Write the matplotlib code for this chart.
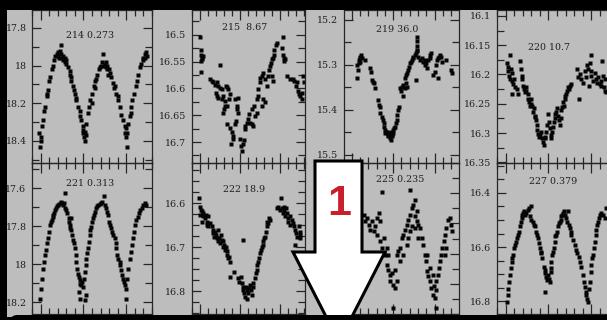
import matplotlib
matplotlib.use('Agg')
import matplotlib.pyplot as plt
from matplotlib.patches import Polygon, Rectangle, FancyBboxPatch
from matplotlib.ticker import MultipleLocator, FuncFormatter

# ---------------- data (phase, magnitude) ----------------
lc214 = [(-0.508,18.43),(-0.515,18.36),(-0.488,18.32),(-0.477,18.29),(-0.457,18.24),(-0.45,18.22),
 (-0.43,18.16),(-0.419,18.13),(-0.40,18.08),(-0.391,18.06),(-0.372,18.02),(-0.36,18.00),(-0.345,17.97),
 (-0.333,17.95),(-0.314,17.94),(-0.295,17.93),(-0.275,17.92),(-0.256,17.89),(-0.267,17.96),(-0.236,17.97),
 (-0.217,17.98),(-0.198,17.99),(-0.178,18.01),(-0.159,18.03),(-0.147,18.06),(-0.14,18.08),(-0.12,18.11),
 (-0.112,18.13),(-0.089,18.17),(-0.081,18.18),(-0.062,18.22),(-0.043,18.24),(-0.035,18.27),(-0.023,18.29),
 (-0.004,18.32),(0.016,18.35),(0.027,18.37),(0.035,18.31),(0.054,18.25),(0.066,18.22),(0.081,18.18),
 (0.105,18.15),(0.12,18.11),(0.132,18.08),(0.151,18.07),(0.163,18.05),(0.182,18.02),(0.198,18.01),
 (0.209,18.00),(0.229,17.94),(0.248,17.99),(0.26,18.01),(0.275,18.02),(0.287,18.05),(0.306,18.04),
 (0.326,18.06),(0.345,18.09),(0.364,18.11),(0.384,18.15),(0.403,18.18),(0.422,18.22),(0.442,18.26),
 (0.461,18.29),(0.481,18.32),(0.50,18.33),(0.512,18.43),(0.519,18.31),(0.539,18.27),(0.558,18.22),
 (0.57,18.18),(0.589,18.15),(0.609,18.11),(0.624,18.08),(0.636,18.05),(0.655,18.01),(0.674,17.99),
 (0.694,17.96),(0.713,17.94),(0.733,17.93),(0.744,17.95),(-0.3,17.95),(-0.28,17.96),(-0.26,17.94),
 (-0.24,17.95),(-0.22,17.96),(-0.2,17.97),(0.22,17.98),(0.24,18.0),(0.26,17.98),(0.28,18.0),(0.3,18.02),
 (0.0,18.36),(0.01,18.38),(0.02,18.40),(-0.01,18.34),(0.49,18.36),(0.5,18.38),(0.51,18.36),(-0.5,18.38),
 (-0.49,18.40),(0.7,17.97),(0.72,17.96),(-0.1,18.15),(0.1,18.2),(0.4,18.16),(0.55,18.25),(-0.42,18.15),
 (-0.16,18.05),(0.14,18.12),(0.36,18.12)]

lc215 = [(-0.5,16.505),(-0.49,16.528),(-0.49,16.537),(-0.48,16.543),(-0.49,16.549),(-0.47,16.546),
 (-0.46,16.54),(-0.49,16.57),(-0.375,16.583),(-0.354,16.586),(-0.333,16.589),(-0.313,16.593),(-0.292,16.588),
 (-0.271,16.596),(-0.25,16.556),(-0.25,16.599),(-0.229,16.602),(-0.30,16.608),(-0.292,16.614),(-0.271,16.617),
 (-0.229,16.62),(-0.208,16.614),(-0.188,16.623),(-0.175,16.596),(-0.158,16.597),(-0.146,16.602),(-0.125,16.611),
 (-0.133,16.62),(-0.167,16.633),(-0.20,16.639),(-0.217,16.645),(-0.188,16.633),(-0.167,16.667),(-0.125,16.673),
 (-0.104,16.682),(-0.092,16.694),(-0.117,16.704),(-0.083,16.688),(-0.063,16.667),(-0.05,16.66),(-0.042,16.639),
 (-0.033,16.633),(-0.021,16.617),(-0.063,16.62),(-0.021,16.645),(0.0,16.694),(0.008,16.707),(0.021,16.716),
 (0.033,16.704),(0.05,16.697),(0.063,16.676),(0.063,16.67),(0.083,16.664),(0.104,16.657),(0.125,16.664),
 (0.146,16.667),(0.167,16.67),(0.117,16.648),(0.146,16.639),(0.175,16.633),(0.208,16.62),(0.229,16.614),
 (0.229,16.602),(0.25,16.589),(0.25,16.58),(0.271,16.577),(0.292,16.571),(0.313,16.583),(0.333,16.596),
 (0.354,16.577),(0.367,16.565),(0.375,16.559),(0.383,16.552),(0.396,16.546),(0.408,16.543),(0.417,16.537),
 (0.425,16.528),(0.442,16.519),(0.458,16.515),(0.521,16.525),(0.533,16.537),(0.542,16.543),(0.55,16.549),
 (0.563,16.546),(0.533,16.505),(0.583,16.577),(0.625,16.583),(0.658,16.583),(0.675,16.586),(0.708,16.589),
 (0.70,16.596),(0.717,16.605),(0.729,16.611),(0.75,16.614),(0.771,16.608),(0.771,16.62),(0.792,16.589),
 (0.783,16.577),(0.292,16.62),(0.313,16.626),(0.271,16.633),(0.208,16.645),(0.188,16.651),(0.396,16.577),
 (0.408,16.586)]

lc219 = [(-0.433,15.300),(-0.425,15.311),(-0.433,15.330),(-0.413,15.289),(-0.401,15.285),(-0.393,15.282),
 (-0.385,15.278),(-0.373,15.285),(-0.413,15.296),(-0.393,15.293),(-0.333,15.289),(-0.274,15.307),(-0.266,15.315),
 (-0.254,15.333),(-0.242,15.337),(-0.234,15.341),(-0.214,15.352),(-0.187,15.378),(-0.175,15.389),(-0.163,15.393),
 (-0.155,15.407),(-0.135,15.415),(-0.123,15.422),(-0.115,15.43),(-0.107,15.437),(-0.095,15.445),(-0.083,15.448),
 (-0.075,15.452),(-0.067,15.456),(-0.056,15.459),(-0.044,15.456),(-0.036,15.463),(-0.028,15.467),(-0.016,15.459),
 (-0.004,15.452),(0.004,15.445),(0.012,15.441),(0.024,15.437),(0.036,15.43),(0.044,15.422),(0.052,15.411),
 (0.06,15.40),(0.067,15.393),(-0.095,15.452),(-0.075,15.448),(-0.056,15.452),(-0.036,15.452),(-0.016,15.456),
 (-0.028,15.448),(0.083,15.352),(0.091,15.359),(0.103,15.348),(0.115,15.37),(0.123,15.344),(0.143,15.352),
 (0.155,15.341),(0.163,15.348),(0.143,15.33),(0.155,15.322),(0.171,15.319),(0.183,15.311),(0.194,15.304),
 (0.202,15.296),(0.21,15.293),(0.222,15.289),(0.234,15.285),(0.242,15.282),(0.262,15.278),(0.274,15.274),
 (0.282,15.27),(0.29,15.267),(0.29,15.259),(0.29,15.237),(0.29,15.248),(0.274,15.333),(0.302,15.282),
 (0.321,15.289),(0.341,15.285),(0.361,15.293),(0.381,15.289),(0.393,15.296),(0.401,15.307),(0.421,15.289),
 (0.44,15.285),(0.448,15.278),(0.46,15.274),(0.381,15.30),(0.48,15.322),(0.50,15.315),(0.52,15.30),
 (0.528,15.289),(0.54,15.285),(0.552,15.282),(0.56,15.278),(0.579,15.282),(0.591,15.293),(0.54,15.33),
 (0.639,15.289),(0.698,15.311),(0.706,15.319)]

lc220 = [(-0.488,16.180),(-0.477,16.194),(-0.469,16.188),(-0.461,16.202),(-0.45,16.208),(-0.438,16.191),
 (-0.43,16.197),(-0.422,16.211),(-0.411,16.216),(-0.399,16.208),(-0.391,16.222),(-0.45,16.166),(-0.43,16.233),
 (-0.372,16.225),(-0.353,16.233),(-0.333,16.177),(-0.322,16.191),(-0.314,16.202),(-0.306,16.208),(-0.295,16.219),
 (-0.283,16.225),(-0.275,16.23),(-0.267,16.222),(-0.256,16.228),(-0.244,16.233),(-0.236,16.242),(-0.229,16.247),
 (-0.217,16.253),(-0.205,16.25),(-0.198,16.242),(-0.19,16.253),(-0.178,16.264),(-0.167,16.258),(-0.159,16.27),
 (-0.151,16.273),(-0.143,16.278),(-0.136,16.287),(-0.128,16.295),(-0.12,16.301),(-0.112,16.306),(-0.101,16.303),
 (-0.089,16.298),(-0.074,16.309),(-0.062,16.315),(-0.05,16.32),(-0.043,16.309),(-0.035,16.306),(-0.023,16.298),
 (-0.012,16.287),(-0.004,16.267),(0.004,16.281),(0.016,16.292),(0.027,16.303),(0.035,16.309),(0.043,16.298),
 (0.054,16.289),(0.066,16.281),(0.074,16.267),(0.081,16.275),(0.093,16.264),(0.105,16.258),(0.112,16.27),
 (0.12,16.278),(0.132,16.287),(0.143,16.275),(0.151,16.261),(0.159,16.256),(0.171,16.247),(0.182,16.253),
 (0.19,16.242),(0.198,16.236),(0.209,16.233),(0.221,16.228),(0.229,16.222),(0.236,16.225),(0.248,16.219),
 (0.26,16.216),(0.345,16.205),(0.353,16.242),(0.364,16.199),(0.384,16.208),(0.403,16.214),(0.422,16.194),
 (0.442,16.205),(0.453,16.183),(0.461,16.191),(0.469,16.219),(0.481,16.18),(0.492,16.194),(0.50,16.202),
 (0.519,16.211),(0.539,16.197),(0.558,16.208),(0.57,16.214),(0.578,16.205),(0.597,16.216),(0.609,16.219),
 (0.616,16.211),(0.624,16.177),(0.636,16.202),(0.647,16.222),(0.655,16.228),(0.663,16.208),(0.674,16.23),
 (0.50,16.166),(0.337,16.191)]

lc221 = [(-0.508,18.182),(-0.5,18.13),(-0.488,18.077),(-0.477,18.024),(-0.461,17.988),(-0.45,17.953),
 (-0.438,17.927),(-0.422,17.891),(-0.411,17.865),(-0.399,17.829),(-0.391,17.794),(-0.384,17.777),(-0.372,17.768),
 (-0.36,17.75),(-0.353,17.741),(-0.341,17.732),(-0.333,17.715),(-0.322,17.706),(-0.306,17.697),(-0.295,17.688),
 (-0.283,17.685),(-0.267,17.679),(-0.256,17.671),(-0.244,17.688),(-0.229,17.679),(-0.213,17.626),(-0.217,17.706),
 (-0.198,17.715),(-0.186,17.732),(-0.174,17.759),(-0.167,17.777),(-0.159,17.794),(-0.151,17.812),(-0.14,17.821),
 (-0.128,17.847),(-0.12,17.874),(-0.112,17.891),(-0.101,17.918),(-0.089,17.953),(-0.081,17.988),(-0.07,18.024),
 (-0.058,18.05),(-0.05,18.068),(-0.043,18.085),(-0.035,18.103),(-0.023,18.112),(-0.012,18.094),(-0.004,18.121),
 (0.004,18.077),(0.016,18.041),(0.027,18.006),(0.035,17.971),(0.043,17.944),(0.054,17.918),(0.066,17.882),
 (0.074,17.847),(0.081,17.821),(0.093,17.803),(0.105,17.777),(0.112,17.759),(0.124,17.741),(0.132,17.724),
 (0.143,17.706),(0.159,17.697),(0.174,17.688),(0.19,17.685),(0.205,17.679),(0.221,17.671),(0.236,17.644),
 (0.248,17.688),(0.26,17.706),(0.275,17.724),(0.287,17.741),(0.298,17.777),(0.314,17.794),(0.326,17.812),
 (0.337,17.829),(0.345,17.847),(0.364,17.865),(0.376,17.891),(0.384,17.918),(0.395,17.953),(0.407,17.971),
 (0.422,17.988),(0.43,18.006),(0.442,18.032),(0.453,18.059),(0.461,18.077),(0.469,18.094),(0.481,18.112),
 (0.492,18.13),(0.50,18.182),(0.512,18.077),(0.523,18.024),(0.539,17.971),(0.55,17.935),(0.562,17.9),
 (0.578,17.865),(0.589,17.829),(0.597,17.794),(0.616,17.768),(0.632,17.75),(0.647,17.732),(0.663,17.715),
 (0.678,17.706),(0.694,17.688),(0.713,17.679),(0.733,17.688),(-0.035,18.182),(0.016,18.191),(-0.05,18.147),
 (0.035,18.165),(-0.14,17.759)]

lc222 = [(-0.508,16.589),(-0.5,16.608),(-0.492,16.615),(-0.5,16.627),(-0.479,16.619),(-0.467,16.623),
 (-0.458,16.63),(-0.479,16.642),(-0.438,16.634),(-0.425,16.627),(-0.417,16.642),(-0.408,16.649),(-0.396,16.63),
 (-0.396,16.653),(-0.375,16.646),(-0.354,16.653),(-0.342,16.661),(-0.333,16.668),(-0.325,16.676),(-0.313,16.665),
 (-0.30,16.672),(-0.292,16.68),(-0.279,16.687),(-0.271,16.661),(-0.258,16.68),(-0.25,16.691),(-0.242,16.672),
 (-0.229,16.684),(-0.217,16.699),(-0.208,16.687),(-0.20,16.695),(-0.188,16.706),(-0.175,16.699),(-0.167,16.71),
 (-0.158,16.718),(-0.146,16.725),(-0.133,16.722),(-0.125,16.733),(-0.125,16.767),(-0.075,16.756),(-0.021,16.771),
 (-0.008,16.779),(0.008,16.767),(0.021,16.782),(0.033,16.79),(0.042,16.798),(0.05,16.805),(0.063,16.813),
 (0.075,16.79),(0.083,16.798),(0.092,16.817),(0.104,16.805),(0.117,16.794),(0.125,16.786),(0.133,16.798),
 (0.146,16.809),(0.158,16.79),(0.167,16.782),(0.188,16.771),(0.20,16.76),(0.208,16.752),(0.217,16.741),
 (0.229,16.733),(0.242,16.725),(0.25,16.714),(0.258,16.706),(0.271,16.699),(0.283,16.695),(0.292,16.687),
 (0.30,16.68),(0.313,16.676),(0.325,16.665),(0.333,16.653),(0.342,16.642),(0.354,16.646),(0.367,16.634),
 (0.375,16.638),(0.042,16.684),(0.458,16.611),(0.479,16.608),(0.50,16.615),(0.513,16.589),(0.521,16.611),
 (0.533,16.623),(0.542,16.608),(0.55,16.619),(0.563,16.63),(0.575,16.611),(0.583,16.623),(0.592,16.634),
 (0.604,16.642),(0.617,16.63),(0.625,16.649),(0.646,16.638),(0.658,16.646),(0.675,16.653),(0.688,16.661),
 (0.70,16.668),(0.708,16.676),(0.729,16.653),(0.742,16.665),(0.75,16.672),(0.688,16.695),(0.742,16.68)]

lc225 = [(-0.5,18.25),(-0.45,18.05),(-0.4,17.85),(-0.353,17.743),(-0.333,17.787),(-0.313,17.765),
 (-0.294,17.809),(-0.274,17.842),(-0.254,17.787),(-0.234,17.853),(-0.214,17.82),(-0.194,17.875),(-0.175,17.732),
 (-0.194,17.765),(-0.155,17.919),(-0.135,17.963),(-0.115,17.996),(-0.095,18.007),(-0.075,18.073),(-0.056,18.106),
 (-0.036,18.139),(-0.016,18.128),(-0.036,18.183),(0.004,18.205),(0.024,18.227),(0.044,18.183),(0.024,18.106),
 (0.044,18.007),(0.063,17.985),(0.083,17.963),(0.103,17.897),(0.123,17.875),(0.143,17.842),(0.163,17.809),
 (0.183,17.776),(0.202,17.743),(0.222,17.699),(0.242,17.677),(0.262,17.754),(0.282,17.787),(0.302,17.809),
 (0.262,17.831),(0.321,17.831),(0.341,17.897),(0.361,17.941),(0.381,18.007),(0.393,18.051),(0.401,18.117),
 (0.421,18.15),(0.44,18.183),(0.46,18.227),(0.48,18.271),(0.488,18.216),(0.50,18.293),(0.52,18.238),
 (0.512,18.359),(0.54,18.139),(0.552,18.095),(0.56,18.051),(0.579,18.007),(0.591,17.963),(0.607,17.919),
 (0.619,17.875),(0.639,17.831),(0.659,17.776),(0.679,17.765),(0.698,17.809),(0.71,17.853),(0.202,17.578),
 (-0.135,17.589),(0.262,17.644),(0.004,18.359),(0.083,18.051),(0.123,18.007),(0.163,17.941),(-0.155,17.787),
 (-0.115,17.897),(-0.075,17.963),(-0.056,18.007),(0.202,17.853),(0.183,17.897),(0.302,17.897),(0.401,18.007),
 (0.44,18.095),(0.48,18.139),(0.52,18.183),(0.619,18.007),(0.639,17.963),(0.282,17.721),(0.222,17.82)]

lc227 = [(-0.488,16.804),(-0.477,16.779),(-0.469,16.754),(-0.461,16.729),(-0.45,16.704),(-0.438,16.679),
 (-0.43,16.655),(-0.422,16.642),(-0.411,16.63),(-0.399,16.605),(-0.391,16.593),(-0.38,16.58),(-0.368,16.568),
 (-0.353,16.555),(-0.345,16.543),(-0.333,16.524),(-0.322,16.506),(-0.314,16.493),(-0.306,16.481),(-0.295,16.475),
 (-0.283,16.468),(-0.275,16.481),(-0.256,16.475),(-0.244,16.462),(-0.229,16.456),(-0.205,16.45),(-0.217,16.487),
 (-0.198,16.499),(-0.178,16.506),(-0.167,16.518),(-0.151,16.524),(-0.14,16.543),(-0.128,16.555),(-0.12,16.568),
 (-0.109,16.586),(-0.101,16.605),(-0.089,16.617),(-0.081,16.624),(-0.074,16.642),(-0.05,16.673),(-0.043,16.686),
 (-0.035,16.698),(-0.023,16.711),(-0.012,16.723),(-0.004,16.704),(0.004,16.717),(0.016,16.729),(0.027,16.692),
 (0.035,16.655),(0.043,16.63),(0.054,16.617),(0.066,16.605),(0.074,16.58),(0.081,16.561),(0.093,16.555),
 (0.105,16.543),(0.112,16.524),(0.12,16.512),(0.132,16.506),(0.143,16.499),(0.151,16.487),(0.159,16.481),
 (0.171,16.475),(0.182,16.468),(0.19,16.481),(0.209,16.493),(0.229,16.468),(0.221,16.506),(0.236,16.518),
 (0.248,16.53),(0.26,16.543),(0.267,16.555),(0.287,16.574),(0.306,16.593),(0.326,16.611),(0.337,16.624),
 (0.353,16.636),(0.364,16.655),(0.384,16.673),(0.403,16.704),(0.415,16.729),(0.422,16.748),(0.434,16.766),
 (0.442,16.779),(0.453,16.791),(0.461,16.804),(0.469,16.754),(0.481,16.729),(0.492,16.692),(0.50,16.667),
 (0.508,16.642),(0.519,16.63),(0.531,16.605),(0.539,16.58),(0.55,16.555),(0.558,16.537),(0.57,16.518),
 (0.578,16.506),(0.585,16.493),(0.597,16.481),(0.609,16.475),(0.636,16.481),(0.655,16.493),(0.674,16.456),
 (-0.043,16.766),(0.035,16.679)]

titles = ["214 0.273", "215  8.67", "219 36.0", "220 10.7",
          "221 0.313", "222 18.9", "225 0.235", "227 0.379"]
curves = [lc214, lc215, lc219, lc220, lc221, lc222, lc225, lc227]
ylims = [(18.517, 17.705), (16.739, 16.454), (15.518, 15.178), (16.351, 16.09),
         (18.263, 17.468), (16.852, 16.509), (18.4, 17.4), (16.848, 16.289)]
ymajor = [0.2, 0.05, 0.1, 0.05, 0.2, 0.1, 0.2, 0.2]
yminor = [0.1, 0.025, 0.05, 0.025, 0.1, 0.025, 0.1, 0.05]
show_ylabels = [True, True, True, True, True, True, False, True]  # panel 225 labels lie under the arrow

# ---------------- layout (pixels of the 607x320 picture) ----------------
W, H = 607, 320
fig = plt.figure(figsize=(W / 100, H / 100), dpi=100)
BG = '#bdbdbd'
fig.patch.set_facecolor(BG)

cols = [(32, 152, (-0.6, 0.8)), (192, 305, (-0.6, 0.81)),
        (344, 459, (-0.59, 0.79)), (497, 617, (-0.6, 0.8))]
rows = [(10, 163), (163, 314)]
title_pos = [(90, 35), (245, 27), (397, 29), (549, 47),
             (90, 184), (244, 190), (400, 180), (553, 182)]

SERIF = ['DejaVu Serif']
TC = '#262626'
for i in range(8):
    r, c = divmod(i, 4)
    x0, x1, xl = cols[c]
    y0, y1 = rows[r]
    ax = fig.add_axes([x0 / W, 1 - y1 / H, (x1 - x0) / W, (y1 - y0) / H])
    ax.set_facecolor('none')
    ph = [p for p, m in curves[i]]
    mg = [m for p, m in curves[i]]
    ax.plot(ph, mg, 's', ms=2.2, color='#050505', mec='none', clip_on=True)
    ax.set_xlim(*xl)
    ax.set_ylim(*ylims[i])
    ax.xaxis.set_major_locator(MultipleLocator(0.5))
    ax.xaxis.set_minor_locator(MultipleLocator(0.1))
    ax.yaxis.set_major_locator(MultipleLocator(ymajor[i]))
    ax.yaxis.set_minor_locator(MultipleLocator(yminor[i]))
    ax.yaxis.set_major_formatter(FuncFormatter(lambda v, pos: f"{v:g}"))
    ax.tick_params(which='both', direction='in', top=True, right=True,
                   labelbottom=False, labelleft=show_ylabels[i], color=TC, width=0.9)
    ax.tick_params(axis='x', which='major', length=7)
    ax.tick_params(axis='x', which='minor', length=4.5)
    ax.tick_params(axis='y', which='major', length=6.5, pad=4,
                   labelsize=6.8, labelcolor='#202020')
    ax.tick_params(axis='y', which='minor', length=5)
    for lab in ax.get_yticklabels():
        lab.set_fontfamily(SERIF)
    for s in ax.spines.values():
        s.set_color(TC)
        s.set_linewidth(0.9)
    tx, ty = title_pos[i]
    fig.text(tx / W, 1 - ty / H, titles[i], ha='center', va='center',
             fontsize=6.8, family=SERIF, color='#202020')

# ---------------- black border bands ----------------
fig.patches.append(Rectangle((0, 1 - 10 / H), 1, 10 / H, transform=fig.transFigure,
                             facecolor='black', edgecolor='none', zorder=20))
fig.patches.append(Rectangle((0, 0), 7 / W, 1, transform=fig.transFigure,
                             facecolor='black', edgecolor='none', zorder=20))
fig.patches.append(FancyBboxPatch((10 / W, -20 / H), 1.1, (20 + 5) / H,
                                  boxstyle='round,pad=0,rounding_size=0.012',
                                  transform=fig.transFigure, facecolor='black',
                                  edgecolor='none', zorder=20, mutation_aspect=W / H))
fig.patches.append(Rectangle((0, 0), 1, 3 / H, transform=fig.transFigure,
                             facecolor='black', edgecolor='none', zorder=20))

# ---------------- overlay arrow with red "1" ----------------
arrow_px = [(315, 161), (362, 161), (362, 252), (385, 252), (339, 342), (293, 252), (315, 252)]
arrow = Polygon([(x / W, 1 - y / H) for x, y in arrow_px], closed=True,
                transform=fig.transFigure, facecolor='white', edgecolor='black',
                linewidth=2.2, joinstyle='miter', zorder=15)
fig.patches.append(arrow)
fig.text(339 / W, 1 - 215 / H, '1', ha='center', va='baseline', color='#c8202a',
         fontsize=31, fontweight='bold', family=['Liberation Sans', 'DejaVu Sans'], zorder=16)

fig.savefig('out.png', dpi=100, facecolor=fig.get_facecolor())
